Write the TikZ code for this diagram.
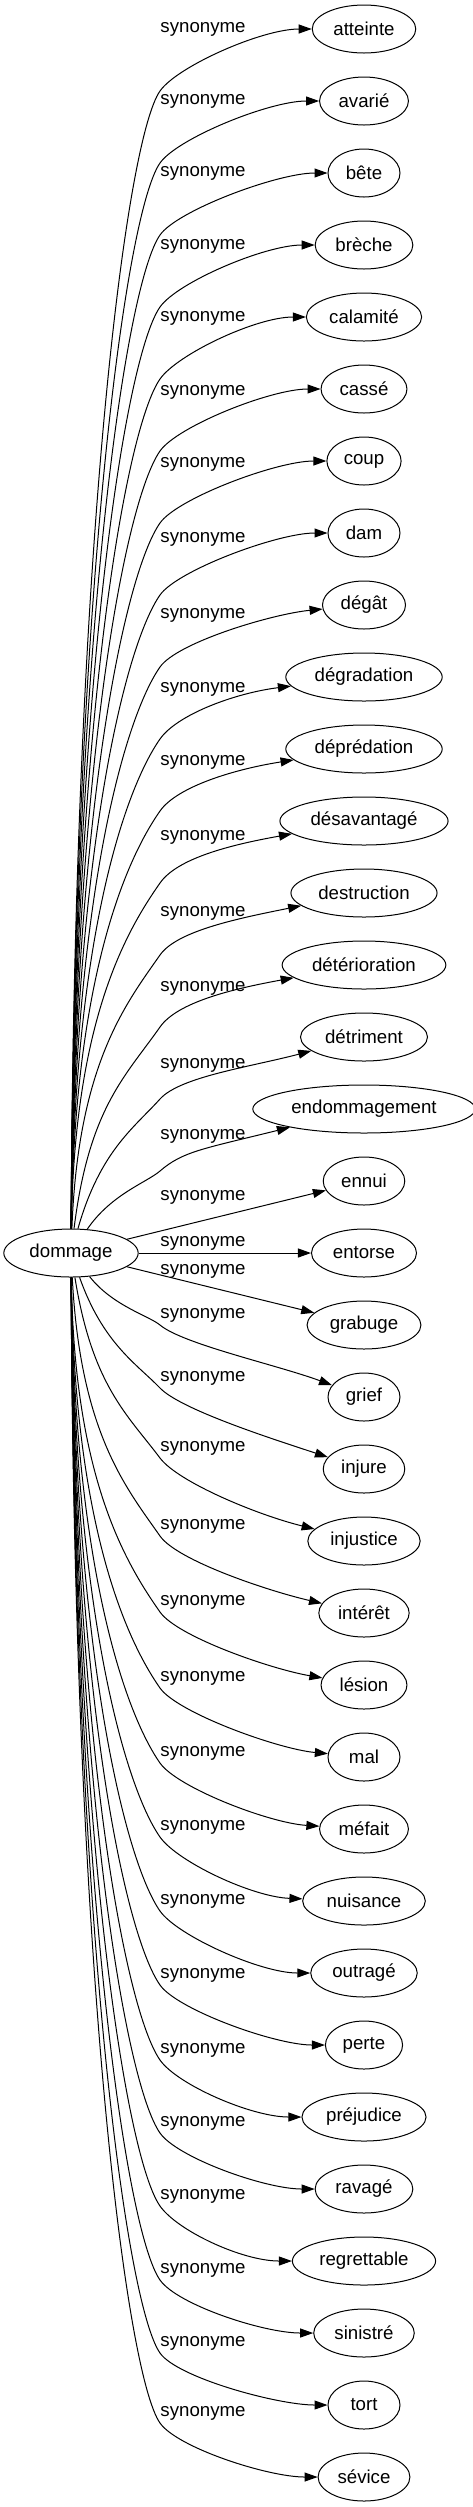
\documentclass[tikz,border=0pt]{standalone}
\usepackage{fontspec}
\setmainfont{Liberation Sans}
\usetikzlibrary{arrows.meta, shapes.geometric, calc}

\tikzset{
  word/.style={draw, ellipse, line width=0.75pt, minimum width=54pt, minimum height=36pt,
    inner xsep=4.5pt, inner ysep=2pt, font=\fontsize{14pt}{16pt}\selectfont},
  synlabel/.style={inner sep=0pt, font=\fontsize{14pt}{16pt}\selectfont},
  syn/.style={line width=0.75pt, -{Triangle[length=9.75pt,width=6.75pt]}}
}

\begin{document}
\begin{tikzpicture}[x=0.75pt, y=-0.75pt]
    \useasboundingbox (0,0) rectangle (473,2507);
    \node[word] (dommage) at (71,1253) {dommage};%centre

    \foreach \i/\mot/\ly in {1/atteinte/29, 2/avarié/101, 3/bête/173, 4/brèche/246,
        5/calamité/318, 6/cassé/392, 7/coup/464, 8/dam/539, 9/dégât/615,
        10/dégradation/689, 11/déprédation/762, 12/désavantagé/837, 13/destruction/913,
        14/détérioration/988, 15/détriment/1065, 16/endommagement/1136, 17/ennui/1197,
        18/entorse/1243, 19/grabuge/1271, 20/grief/1315, 21/injure/1378,
        22/injustice/1448, 23/intérêt/1526, 24/lésion/1602, 25/mal/1678,
        26/méfait/1753, 27/nuisance/1827, 28/outragé/1901, 29/perte/1975,
        30/préjudice/2050, 31/ravagé/2123, 32/regrettable/2196, 33/sinistré/2270,
        34/tort/2343, 35/sévice/2413}{
        \pgfmathsetmacro{\ty}{29+72*(\i-1)}
        \node[word] (n\i) at (364,\ty) {\mot};
        \node[synlabel] (l\i) at (203,\ly) {synonyme};
    }

    % en haut
    \foreach \i/\bb in {1/0, 2/0, 3/0, 4/0, 5/0, 6/0, 7/0, 8/0, 9/9, 10/16, 11/20,
        12/24, 13/25, 14/24, 15/30, 16/40}{
        \pgfmathsetmacro{\wy}{29+72*(\i-1)+62}
        \pgfmathsetmacro{\rise}{1229-\wy}
        \pgfmathsetmacro{\fr}{min(1,\rise/300)}
        \pgfmathsetmacro{\ang}{35+20*min(1,\rise/200)}
        \pgfmathsetmacro{\len}{min(60,0.3*\rise)}
        \draw[syn] (dommage) .. controls ({74+46*(1-\fr)},{1229-0.6*\rise})
            and ({160-\len*cos(\ang)},{\wy+\len*sin(\ang)}) .. (160,\wy)
            .. controls ({160+30*cos(\ang)},{\wy-30*sin(\ang)})
            and ($(n\i.west)+(-50,\bb)$) .. (n\i);
    }

    % au milieu
    \foreach \i in {17,18,19}
        \draw[syn] (dommage) -- (n\i);

    % en bas
    \foreach \i/\ly/\bb in {20/1315/32, 21/1378/30, 22/1448/26, 23/1526/22, 24/1602/16,
        25/1678/8, 26/1753/6, 27/1827/4, 28/1901/0, 29/1975/0, 30/2050/0, 31/2123/0,
        32/2196/0, 33/2270/0, 34/2343/0, 35/2413/0}{
        \pgfmathsetmacro{\wy}{\ly+10}
        \pgfmathsetmacro{\rise}{\wy-1277}
        \pgfmathsetmacro{\fr}{min(1,\rise/300)}
        \pgfmathsetmacro{\ang}{35+20*min(1,\rise/200)}
        \pgfmathsetmacro{\len}{min(60,0.3*\rise)}
        \draw[syn] (dommage) .. controls ({74+46*(1-\fr)},{1277+0.6*\rise})
            and ({160-\len*cos(\ang)},{\wy-\len*sin(\ang)}) .. (160,\wy)
            .. controls ({160+30*cos(\ang)},{\wy+30*sin(\ang)})
            and ($(n\i.west)+(-50,-\bb)$) .. (n\i);
    }
\end{tikzpicture}
\end{document}
